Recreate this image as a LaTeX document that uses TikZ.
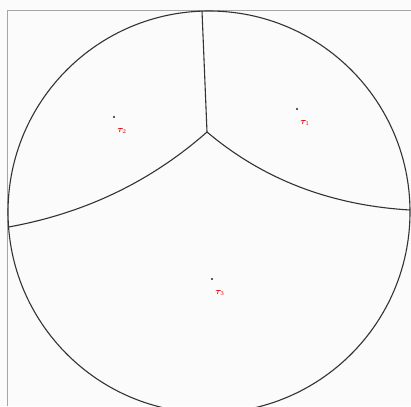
\documentclass[tikz,border=0pt]{standalone}
\usepackage{amsmath,amssymb,bm}
\usetikzlibrary{calc}
\begin{document}
\begin{tikzpicture}[x=1pt,y=-1pt,
  edge/.style={draw=black!80,line width=1.1pt},
  site/.style={circle,fill=black!85,inner sep=0pt,minimum size=2.2pt},
  lab/.style={text=red!90!black,font=\small,inner sep=0pt}]
\useasboundingbox (0,0) rectangle (411,406);
\fill[white!97!gray] (0,0) rectangle (411,406);
\draw[black!35,line width=0.8pt] (7,406) -- (7,10) -- (411,10);
\coordinate (J) at (207,132);
\coordinate (T) at (202,11);
\coordinate (L) at (8.6,227);
\coordinate (R) at (410,210);
\draw[edge] (209,212) circle[radius=201];
\draw[edge] (T) -- (J);
\draw[edge] (J) .. controls ($(J)!0.667!(122.5,206.5)$) and ($(L)!0.667!(122.5,206.5)$) .. (L);
\draw[edge] (J) .. controls ($(J)!0.667!(291,203)$) and ($(R)!0.667!(291,203)$) .. (R);
\node[site] (s1) at (297,109) {};
\node[site] (s2) at (114,117) {};
\node[site] (s3) at (212,279) {};
\node[lab] (t1) at (305,123) {$\bm{\tau}_1$};
\node[lab] (t2) at (122,131) {$\bm{\tau}_2$};
\node[lab] (t3) at (220,293) {$\bm{\tau}_3$};
\end{tikzpicture}
\end{document}
